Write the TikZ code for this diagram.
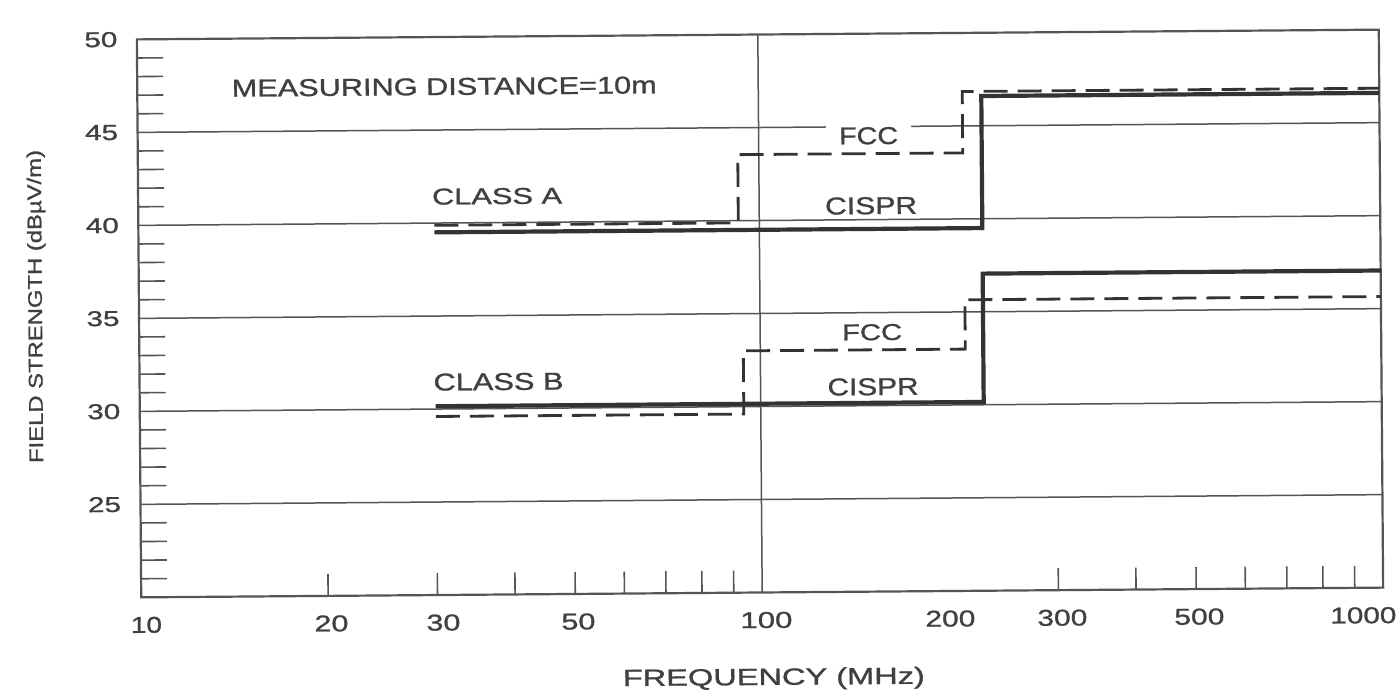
\documentclass[tikz,border=0pt]{standalone}
\usepackage{fontspec}
\setmainfont{Liberation Sans}[FakeBold=1]
\usepackage{graphicx}
\definecolor{inkc}{HTML}{404040}
\definecolor{gridc}{HTML}{555555}
\definecolor{curvec}{HTML}{333333}
\newcommand\fitbox[3]{\resizebox{#1pt}{#2pt}{#3}}
\tikzset{
  lbl/.style={inner sep=0pt, text=inkc, anchor=base, transform shape},
  gridln/.style={draw=gridc, line width=1.5pt},
  tickln/.style={draw=gridc, line width=1.6pt},
  frameln/.style={draw=gridc, line width=2.2pt},
  cispr/.style={draw=curvec, line width=4.2pt, line join=miter},
  fcc/.style={draw=curvec, line width=2.8pt, dash pattern=on 24pt off 10pt},
  declare function={yv(\v)=592.5-(\v-20)*18.6; xf(\f)=139+621*log10(\f/10);}
}
\begin{document}
\begin{tikzpicture}[x=1pt,y=-1pt]
\useasboundingbox (0,0) rectangle (1398,689);
\fill[white] (0,0) rectangle (1398,689);
\begin{scope}[rotate around={0.45:(760,313.5)}]
  % grid lines
  \foreach \v in {25,30,35,40,45}
    \draw[gridln] (139,{yv(\v)}) -- (1381,{yv(\v)});
  \draw[gridln] (760,34.5) -- (760,592.5);
  % minor ticks on y axis
  \foreach \v in {21,22,23,24,26,27,28,29,31,32,33,34,36,37,38,39,41,42,43,44,46,47,48,49}
    \draw[tickln] (139,{yv(\v)}) -- ++(26,0);
  % minor ticks on x axis
  \foreach \f in {20,30,40,50,60,70,80,90,300,400,500,600,700,800,900}
    \draw[tickln] ({xf(\f)},592.5) -- ++(0,-22);
  % frame
  \draw[frameln] (139,34.5) rectangle (1381,592.5);

  % Class A curves
  \draw[cispr] (435,{yv(39.5)}) -- (983,{yv(39.5)}) -- (983,{yv(46.6)}) -- (1381,{yv(46.6)});
  \draw[fcc] (435,{yv(39.88)}) -- (739,{yv(39.88)}) -- (739,{yv(43.55)}) -- (964,{yv(43.55)}) -- (964,{yv(46.85)}) -- (1381,{yv(46.85)});
  % Class B curves
  \draw[cispr] (435,{yv(30.15)}) -- (983,{yv(30.15)}) -- (983,{yv(37.05)}) -- (1381,{yv(37.05)});
  \draw[fcc] (435,{yv(29.6)}) -- (743,{yv(29.6)}) -- (743,{yv(33.0)}) -- (965,{yv(33.0)}) -- (965,{yv(35.65)}) -- (1381,{yv(35.65)});

  % labels inside plot
  \node[lbl] (title) at (446,92.5) {\fitbox{425}{17}{MEASURING DISTANCE=10m}};
  \node[lbl] (classA) at (498,202) {\fitbox{130}{16}{CLASS A}};
  \node[lbl] (classB) at (498,388) {\fitbox{130}{17}{CLASS B}};
  \node[lbl, fill=white, inner xsep=13pt, inner ysep=2pt] (fccA) at (870,145) {\fitbox{59}{17}{FCC}};
  \node[lbl] (cisprA) at (872,215) {\fitbox{92}{17}{CISPR}};
  \node[lbl] (fccB) at (872,341) {\fitbox{60}{16}{FCC}};
  \node[lbl] (cisprB) at (872.5,396) {\fitbox{91}{17}{CISPR}};

  % y tick labels
  \foreach \v/\n in {50/y50,45/y45,40/y40,35/y35,30/y30,25/y25}
    \node[lbl, anchor=center] (\n) at (103,{yv(\v)}) {\fitbox{33}{15}{\v}};

  % x tick labels
  \node[lbl] (x10) at (144,628) {\fitbox{31}{16}{10}};
  \node[lbl] (x20) at (329,628) {\fitbox{34}{16}{20}};
  \node[lbl] (x30) at (441,628) {\fitbox{34}{16}{30}};
  \node[lbl] (x50) at (576,628) {\fitbox{34}{16}{50}};
  \node[lbl] (x100) at (764,628) {\fitbox{52}{16}{100}};
  \node[lbl] (x200) at (948,628) {\fitbox{50}{16}{200}};
  \node[lbl] (x300) at (1060,628) {\fitbox{50}{16}{300}};
  \node[lbl] (x500) at (1197,628) {\fitbox{50}{16}{500}};
  \node[lbl] (x1000) at (1361,628) {\fitbox{66}{16}{1000}};

  % axis titles
  \node[lbl] (xlab) at (771,685) {\fitbox{302}{17}{FREQUENCY (MHz)}};
  \node[lbl, rotate=90] (ylab) at (42,300.8) {\fitbox{313}{14.3}{FIELD STRENGTH (dBµV/m)}};
\end{scope}
\end{tikzpicture}
\end{document}
